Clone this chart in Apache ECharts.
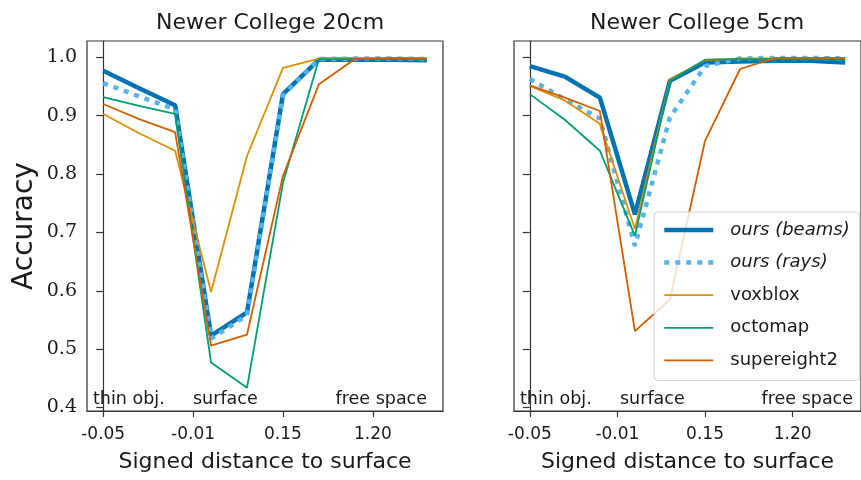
<!DOCTYPE html>
<html>
<head>
<meta charset="utf-8">
<title>Newer College accuracy</title>
<script src="https://cdn.jsdelivr.net/npm/echarts@6/dist/echarts.min.js"></script>
<style>
  html, body { margin: 0; padding: 0; background: #fff; }
  #chart { width: 861px; height: 480px; }
</style>
</head>
<body>
<div id="chart"></div>
<script>
// samples are evenly spaced along x, labelled ticks every 2.5 samples
const sampleIdx = [0, 1, 2, 3, 4, 5, 6, 7, 8, 9];
const tickPos = [0, 2.5, 5, 7.5];
const tickLabels = ['-0.05', '-0.01', '0.15', '1.20'];
const yTicks = [0.4, 0.5, 0.6, 0.7, 0.8, 0.9, 1.0];

const methods = ['ours (beams)', 'ours (rays)', 'voxblox', 'octomap', 'supereight2'];
const titles = ['Newer College 20cm', 'Newer College 5cm'];

// Newer College 20cm
const beams20 = [0.977, 0.947, 0.918, 0.523, 0.563, 0.937, 0.996, 0.996, 0.996, 0.995];
const rays20 = [0.956, 0.933, 0.911, 0.518, 0.558, 0.935, 0.997, 0.998, 0.998, 0.997];
const voxblox20 = [0.903, 0.870, 0.840, 0.598, 0.831, 0.982, 0.998, 0.999, 0.999, 0.998];
const octomap20 = [0.932, 0.917, 0.903, 0.477, 0.434, 0.785, 0.997, 0.997, 0.997, 0.996];
const supereight20 = [0.920, 0.894, 0.872, 0.506, 0.525, 0.797, 0.954, 0.997, 0.999, 0.998];

// Newer College 5cm
const beams5 = [0.985, 0.967, 0.931, 0.731, 0.960, 0.991, 0.993, 0.994, 0.994, 0.991];
const rays5 = [0.963, 0.928, 0.895, 0.677, 0.897, 0.985, 0.998, 0.999, 0.999, 0.998];
const voxblox5 = [0.951, 0.926, 0.886, 0.706, 0.962, 0.995, 0.998, 0.998, 0.998, 0.997];
const octomap5 = [0.937, 0.893, 0.840, 0.694, 0.960, 0.996, 0.997, 0.997, 0.997, 0.996];
const supereight5 = [0.952, 0.931, 0.908, 0.531, 0.585, 0.857, 0.980, 0.999, 0.999, 0.999];

const panels = [
  [beams20, rays20, voxblox20, octomap20, supereight20],
  [beams5, rays5, voxblox5, octomap5, supereight5]
];

// seaborn colorblind colours
const lineStyles = {
  'ours (beams)': { color: '#0173B2', width: 4.5, type: 'solid' },
  'ours (rays)': { color: '#56B4E9', width: 4.5, type: [5, 6] },
  'voxblox': { color: '#DE8F05', width: 1.8, type: 'solid' },
  'octomap': { color: '#029E73', width: 1.8, type: 'solid' },
  'supereight2': { color: '#D55E00', width: 1.8, type: 'solid' }
};

const sans = 'DejaVu Sans';
const textColor = '#1a1a1a';
const gridLefts = [87, 514];

const chart = echarts.init(document.getElementById('chart'));

const grids = gridLefts.map(left => ({
  left: left, top: 41, width: 356, height: 370,
  show: true, borderColor: '#333', borderWidth: 1.2
}));

const xAxes = gridLefts.map((_, i) => ({
  type: 'value', gridIndex: i, min: -0.45, max: 9.45,
  name: 'Signed distance to surface',
  nameLocation: 'middle', nameGap: 40,
  nameTextStyle: { fontFamily: sans, fontSize: 22, color: textColor },
  axisLine: { show: true, lineStyle: { color: '#333', width: 1.2 } },
  axisTick: { show: true, customValues: tickPos, length: 6, lineStyle: { color: '#333', width: 1.2 } },
  axisLabel: {
    customValues: tickPos, margin: 15,
    fontFamily: sans, fontSize: 17, color: textColor,
    formatter: v => tickLabels[tickPos.indexOf(v)]
  },
  splitLine: { show: false }
}));

const yAxes = gridLefts.map((_, i) => ({
  type: 'value', gridIndex: i, min: 0.394, max: 1.028,
  name: i === 0 ? 'Accuracy' : '',
  nameLocation: 'middle', nameGap: 48,
  nameTextStyle: { fontFamily: sans, fontSize: 28, color: textColor },
  axisLine: { show: true, lineStyle: { color: '#333', width: 1.2 } },
  axisTick: { show: true, customValues: yTicks, length: 7, lineStyle: { color: '#333', width: 1.2 } },
  axisLabel: {
    show: i === 0, customValues: yTicks, margin: 10,
    fontFamily: 'DejaVu Serif', fontSize: 19, color: textColor,
    formatter: v => v.toFixed(1)
  },
  splitLine: { show: false }
}));

const series = [];
panels.forEach((values, p) => {
  methods.forEach((name, m) => {
    const st = lineStyles[name];
    series.push({
      name: name,
      type: 'line',
      xAxisIndex: p, yAxisIndex: p,
      data: sampleIdx.map((x, k) => [x, values[m][k]]),
      symbol: 'none',
      animation: false,
      color: st.color,
      lineStyle: { color: st.color, width: st.width, type: st.type, cap: 'butt' }
    });
  });
});

// region labels inside each panel
const annot = (text, x, align) => ({
  type: 'text', x: x, y: 399,
  style: {
    text: text, fill: textColor, font: '17.5px "DejaVu Sans"',
    textAlign: align, textVerticalAlign: 'middle'
  }
});

const option = {
  backgroundColor: '#fff',
  animation: false,
  title: titles.map((t, i) => ({
    text: t, left: gridLefts[i] + 178, top: 7, textAlign: 'center',
    textStyle: { fontFamily: sans, fontSize: 22, fontWeight: 'normal', color: textColor }
  })),
  grid: grids,
  xAxis: xAxes,
  yAxis: yAxes,
  legend: {
    orient: 'vertical', left: 654, top: 212,
    padding: [8, 10, 10, 8],
    itemWidth: 49, itemHeight: 20, itemGap: 12.6,
    backgroundColor: 'rgba(255,255,255,0.8)',
    borderColor: '#d0d0d0', borderWidth: 1, borderRadius: 4,
    itemStyle: { opacity: 0 },
    textStyle: { fontFamily: sans, fontSize: 18, color: textColor, lineHeight: 20, padding: [0, 0, 0, 12] },
    data: methods.map((name, m) => ({
      name: name,
      itemStyle: { opacity: 0 },
      lineStyle: {
        color: lineStyles[name].color,
        width: lineStyles[name].width,
        type: lineStyles[name].type,
        cap: 'butt'
      },
      textStyle: m < 2 ? { fontStyle: 'italic' } : {}
    }))
  },
  graphic: [
    annot('thin obj.', 93, 'left'),
    annot('surface', 193, 'left'),
    annot('free space', 427, 'right'),
    annot('thin obj.', 520, 'left'),
    annot('surface', 620, 'left'),
    annot('free space', 853, 'right')
  ],
  series: series
};

chart.setOption(option);
</script>
</body>
</html>
